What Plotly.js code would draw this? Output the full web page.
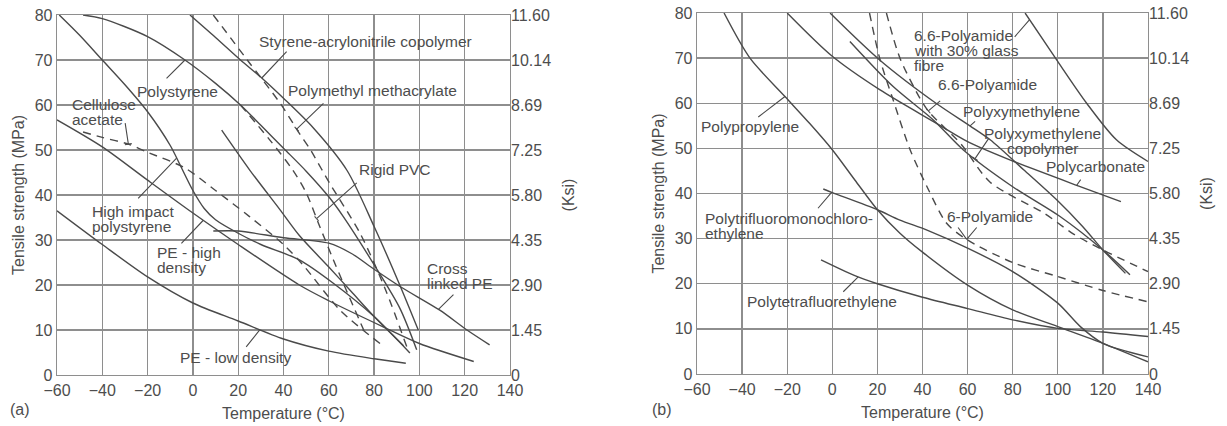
<!DOCTYPE html>
<html>
<head>
<meta charset="utf-8">
<script src="https://cdn.plot.ly/plotly-3.0.1.min.js"></script>
<style>
  html, body { margin: 0; padding: 0; background: #ffffff; }
  #chart { width: 1227px; height: 426px; }
</style>
</head>
<body>
<div id="chart"></div>
<script>
// Shared scales
const tempTicks = [-60, -40, -20, 0, 20, 40, 60, 80, 100, 120, 140];
const mpaTicks = [0, 10, 20, 30, 40, 50, 60, 70, 80];
const ksiLabels = ['0', '1.45', '2.90', '4.35', '5.80', '7.25', '8.69', '10.14', '11.60'];

// ---- Panel (a): temperature (°C) vs tensile strength (MPa) ----
const polystyreneT = [-48.5, -40, -20, -3.5, 10, 21, 30, 40, 50, 60, 66.4, 80, 91.4, 98.8];
const polystyreneS = [80, 79.2, 75.2, 70, 64.8, 60, 55.5, 50.4, 45.3, 39.6, 35.2, 24.5, 14.8, 5.6];

const sanT = [-1.3, 10, 21, 30.4, 40, 53, 68, 80, 91, 99.5];
const sanS = [80, 75, 70, 66, 61.5, 55, 45.5, 33, 20.4, 10];

const pmmaT = [9, 24, 38.5, 47, 51.7, 60.5, 73.8, 85, 94.4];
const pmmaS = [80, 70, 60.4, 53.7, 50.2, 42.5, 31.5, 19, 6.3];

const pvcT = [21, 34, 44, 50, 56, 62, 66.4, 76.7];
const pvcS = [60, 52.2, 45.6, 40.5, 33, 25.6, 20.4, 8.5];

const celluloseT = [-48.5, -40, -28.5, -20, -3.5, 10, 25, 40, 48.7, 65, 82.6];
const celluloseS = [54, 52.8, 51.3, 49.5, 46, 41, 35.2, 29, 24.4, 14.4, 7];

const hipsT = [-59, -50, -40, -30, -20, -10, -5, 0, 5, 10, 20, 30, 47, 62, 80, 95.8];
const hipsS = [80, 75.5, 70, 64.5, 58.5, 51, 46, 41, 37, 34.5, 31.5, 29, 25.6, 20.4, 13, 4.9];

const unlabeledT = [12.7, 25, 38.5, 47, 60, 70, 80, 93];
const unlabeledS = [54.4, 45.6, 36.7, 31, 24, 18.5, 13, 6.5];

const peHighT = [-60, -40, -20, 0, 20, 47, 60, 84, 100, 124];
const peHighS = [56.7, 50.7, 43.3, 36, 29, 20, 16.5, 10.7, 7, 3];

const peLowT = [-60, -40, -20, 0, 20, 40, 60, 80, 94];
const peLowS = [36.5, 29, 21.8, 16, 12, 8, 5.3, 3.6, 2.6];

const xlpeT = [9, 20, 40, 60, 70, 80, 92, 109, 121, 131];
const xlpeS = [32, 32, 30.5, 29.3, 27, 23.5, 19.5, 14.4, 10, 6.7];

// ---- Panel (b) ----
const ppT = [-48, -36.5, -21, -10, 0, 10, 20, 30, 40, 60, 80, 100, 120, 140];
const ppS = [80, 70, 61.5, 55.5, 49.7, 43, 36.4, 31.2, 27, 19.7, 14.2, 10.5, 6.8, 2.7];

const ptfceT = [-4, 0, 20, 30, 42, 60, 80, 100, 110, 120, 140];
const ptfceS = [41, 40.2, 36.4, 34.1, 31.9, 27.9, 22.7, 15.7, 10.5, 6.8, 3.8];

const ptfeT = [-5, 10, 20, 40, 60, 80, 100, 120, 140];
const ptfeS = [25.3, 21.8, 20, 17, 14.5, 12, 10.1, 9.3, 8.3];

const pa66gfT = [85.5, 99.5, 112.8, 126, 140];
const pa66gfS = [80, 69.6, 60, 51.9, 47.1];

const pa6T = [16.5, 21, 27, 34.5, 42, 50.7, 59, 80, 100, 120, 140];
const pa6S = [80, 70, 60.7, 49.7, 41.5, 33.4, 30, 24.7, 21.6, 18.5, 16];

const pa66T = [24, 30, 39, 43, 57, 70, 94, 107, 120, 140];
const pa66S = [80, 70, 61, 58, 51, 42.5, 35.6, 31, 27.5, 22.7];

const pomT = [-1, 21, 46, 61, 70, 85, 99.5, 111, 120, 130];
const pomS = [80, 69.6, 60, 55, 51.9, 45.2, 38.6, 32.7, 27.5, 22.3];

const pomcoT = [7.8, 27, 44.8, 58, 80, 101, 120, 132];
const pomcoS = [73.7, 63.7, 56.3, 49.7, 41.5, 34.9, 27.5, 22];

const pcT = [-20, 0, 21, 46, 60, 79, 109, 128];
const pcS = [80, 70.4, 63, 55.6, 51.5, 47.4, 41.7, 38.2];

const INK = '#4a4a4a';
const GRID = '#8e8e8e';
const TEXT = '#4d4d4d';
const FONT = 'Liberation Sans, Arial, sans-serif';

// Pixels per unit for each panel (°C, MPa), used for the small end bars of leaders
const PX_PER = { a: [2.265, 4.5], b: [2.255, 4.51] };

function curve(t, s, panel, dashed) {
  return {
    x: t, y: s, type: 'scatter', mode: 'lines',
    xaxis: panel === 'a' ? 'x' : 'x2',
    yaxis: panel === 'a' ? 'y' : 'y3',
    line: { color: INK, width: 1.4, shape: 'spline', smoothing: 0.8, dash: dashed ? '8px,6px' : 'solid' },
    hoverinfo: 'skip', showlegend: false
  };
}

const series = {
  polystyrene: [polystyreneT, polystyreneS, 'a', false],
  san: [sanT, sanS, 'a', false],
  pmma: [pmmaT, pmmaS, 'a', true],
  pvc: [pvcT, pvcS, 'a', true],
  cellulose: [celluloseT, celluloseS, 'a', true],
  hips: [hipsT, hipsS, 'a', false],
  unlabeled: [unlabeledT, unlabeledS, 'a', false],
  peHigh: [peHighT, peHighS, 'a', false],
  peLow: [peLowT, peLowS, 'a', false],
  xlpe: [xlpeT, xlpeS, 'a', false],
  pp: [ppT, ppS, 'b', false],
  ptfce: [ptfceT, ptfceS, 'b', false],
  ptfe: [ptfeT, ptfeS, 'b', false],
  pa66gf: [pa66gfT, pa66gfS, 'b', false],
  pa6: [pa6T, pa6S, 'b', true],
  pa66: [pa66T, pa66S, 'b', true],
  pom: [pomT, pomS, 'b', false],
  pomco: [pomcoT, pomcoS, 'b', false],
  pc: [pcT, pcS, 'b', false]
};

const traces = Object.values(series).map(([t, s, p, d]) => curve(t, s, p, d));

// Strength of a series at a given temperature (linear between read points)
function strengthAt(name, temp) {
  const [t, s] = series[name];
  for (let i = 0; i < t.length - 1; i++) {
    if (temp >= t[i] && temp <= t[i + 1]) {
      const f = (temp - t[i]) / (t[i + 1] - t[i]);
      return s[i] + f * (s[i + 1] - s[i]);
    }
  }
  return s[s.length - 1];
}

// Curve labels: text lines, text anchor, leader start, leader tip on a curve, optional end bar
const curveLabels = [
  { p: 'a', lines: ['Styrene-acrylonitrile copolymer'], x: 76, y: 74, lead: [[42, 72.2]], on: 'san', at: 30.4 },
  { p: 'a', lines: ['Polystyrene'], x: -6.6, y: 62.9, lead: [[-12.3, 65.6]], on: 'polystyrene', at: -3.5 },
  { p: 'a', lines: ['Polymethyl methacrylate'], x: 79.1, y: 63.3, lead: [[58.3, 60.7]], on: 'pmma', at: 45.8, bar: true },
  { p: 'a', lines: ['Cellulose', 'acetate'], x: -54.3, y: 58.4, align: 'left', lead: [[-30, 56.3]], on: 'cellulose', at: -28.5, bar: true },
  { p: 'a', lines: ['Rigid PVC'], x: 89.2, y: 45.6, lead: [[73, 43]], on: 'pvc', at: 54.6, bar: true },
  { p: 'a', lines: ['High impact', 'polystyrene'], x: -45.4, y: 34.7, align: 'left', lead: [[-24.8, 38.9]], on: 'hips', at: -7.2 },
  { p: 'a', lines: ['PE - high', 'density'], x: -16.7, y: 25.6, align: 'left', lead: [[-5.7, 28.9]], on: 'peHigh', at: 4.6 },
  { p: 'a', lines: ['PE - low density'], x: 18.6, y: 4, lead: [[23, 5.9]], on: 'peLow', at: 29.6 },
  { p: 'a', lines: ['Cross', 'linked PE'], x: 102.5, y: 22, align: 'left', lead: [[115.7, 18.2]], on: 'xlpe', at: 108.4 },
  { p: 'b', lines: ['6.6-Polyamide', 'with 30% glass', 'fibre'], x: 35.2, y: 71.6, align: 'left', lead: [[80.3, 74.4]], on: 'pa66gf', at: 87.5 },
  { p: 'b', lines: ['6.6-Polyamide'], x: 69, y: 64.1, lead: [[48.5, 60.8]], on: 'pa66', at: 42.6, bar: true },
  { p: 'b', lines: ['Polyxymethylene'], x: 84.1, y: 58.1, lead: [[64, 56.3]], on: 'pom', at: 61.1 },
  { p: 'b', lines: ['Polyxymethylene', 'copolymer'], x: 93.4, y: 51.7, lead: [[69.9, 52.6]], on: 'pomco', at: 63.3, bar: true },
  { p: 'b', lines: ['Polycarbonate'], x: 116.9, y: 45.9, lead: [[110.6, 43.4]], on: 'pc', at: 108.4 },
  { p: 'b', lines: ['Polypropylene'], x: -36.5, y: 54.8, lead: [[-33.5, 56.7]], on: 'pp', at: -21 },
  { p: 'b', lines: ['Polytrifluoromonochloro-', 'ethylene'], x: -57.3, y: 32.8, align: 'left', lead: [[-6.9, 36.4]], on: 'ptfce', at: -0.3 },
  { p: 'b', lines: ['Polytetrafluorethylene'], x: -4.6, y: 16, lead: [[4.2, 17.9]], on: 'ptfe', at: 11.5 },
  { p: 'b', lines: ['6-Polyamide'], x: 69.9, y: 34.8, lead: [[55.3, 32.8], [64.6, 32.8]], on: 'pa6', at: 59.6 }
];

const annotations = [];
const LINE_GAP = 15;
const BAR_HALF = 5;
curveLabels.forEach(lb => {
  const xr = lb.p === 'a' ? 'x' : 'x2';
  const yr = lb.p === 'a' ? 'y' : 'y3';
  const n = lb.lines.length;
  lb.lines.forEach((txt, i) => {
    annotations.push({
      xref: xr, yref: yr, x: lb.x, y: lb.y, text: txt, showarrow: false,
      xanchor: lb.align === 'left' ? 'left' : 'center', yanchor: 'middle',
      yshift: -(i - (n - 1) / 2) * LINE_GAP,
      font: { family: FONT, size: 15.5, color: TEXT }
    });
  });
  const tipY = strengthAt(lb.on, lb.at);
  lb.lead.forEach(([lx, ly]) => {
    annotations.push({
      xref: xr, yref: yr, axref: xr, ayref: yr,
      x: lb.at, y: tipY, ax: lx, ay: ly, text: '',
      showarrow: true, arrowhead: 0, arrowwidth: 1.1, arrowcolor: INK, standoff: 0, startstandoff: 0
    });
    if (lb.bar) {
      // short bar across the leader at its tip
      const [sx, sy] = PX_PER[lb.p];
      const dx = (lx - lb.at) * sx, dy = -(ly - tipY) * sy;
      const len = Math.hypot(dx, dy) || 1;
      const px = -dy / len * BAR_HALF, py = dx / len * BAR_HALF;
      [1, -1].forEach(sg => annotations.push({
        xref: xr, yref: yr, x: lb.at, y: tipY, ax: sg * px, ay: sg * py, text: '',
        showarrow: true, arrowhead: 0, arrowwidth: 1.1, arrowcolor: INK, standoff: 0, startstandoff: 0
      }));
    }
  });
});

// Panel tags
annotations.push({ xref: 'paper', yref: 'paper', x: 8 / 1227, y: 1 - 409 / 426, text: '(a)', showarrow: false,
  xanchor: 'left', yanchor: 'middle', font: { family: FONT, size: 16, color: TEXT } });
annotations.push({ xref: 'paper', yref: 'paper', x: 650 / 1227, y: 1 - 409 / 426, text: '(b)', showarrow: false,
  xanchor: 'left', yanchor: 'middle', font: { family: FONT, size: 16, color: TEXT } });

const tickFont = { family: FONT, size: 16, color: TEXT };
const titleFont = { family: FONT, size: 16, color: TEXT };

function xAxis(domain, anchor) {
  return {
    domain: domain, anchor: anchor, range: [-60, 140], tickvals: tempTicks, ticks: '',
    showgrid: true, gridcolor: GRID, gridwidth: 1.3, zeroline: false,
    showline: true, linecolor: GRID, linewidth: 1.3, mirror: true,
    tickfont: tickFont, title: { text: 'Temperature (°C)', font: titleFont, standoff: 10 }, fixedrange: true
  };
}
function yLeft(domain, anchor) {
  return {
    domain: domain, anchor: anchor, range: [0, 80], tickvals: mpaTicks, ticks: '',
    showgrid: true, gridcolor: GRID, gridwidth: 1.3, zeroline: false,
    showline: true, linecolor: GRID, linewidth: 1.3, mirror: true,
    tickfont: tickFont, title: { text: 'Tensile strength (MPa)', font: titleFont, standoff: 6 }, fixedrange: true
  };
}
function yRight(over, anchor) {
  return {
    overlaying: over, anchor: anchor, side: 'right', range: [0, 80], tickvals: mpaTicks, ticktext: ksiLabels,
    ticks: '', showgrid: false, zeroline: false, tickfont: tickFont,
    title: { text: '(Ksi)', font: titleFont, standoff: 12 }, fixedrange: true
  };
}

// Two-panel layout; one empty trace per right axis so it renders
traces.push({ x: [null], y: [null], xaxis: 'x', yaxis: 'y2', type: 'scatter', showlegend: false, hoverinfo: 'skip' });
traces.push({ x: [null], y: [null], xaxis: 'x2', yaxis: 'y4', type: 'scatter', showlegend: false, hoverinfo: 'skip' });

const layout = {
  width: 1227, height: 426, autosize: false,
  margin: { l: 0, r: 0, t: 0, b: 0 },
  paper_bgcolor: '#ffffff', plot_bgcolor: '#ffffff',
  showlegend: false,
  xaxis: xAxis([57 / 1227, 510 / 1227], 'y'),
  yaxis: yLeft([1 - 375 / 426, 1 - 15 / 426], 'x'),
  yaxis2: yRight('y', 'x'),
  xaxis2: xAxis([697 / 1227, 1148 / 1227], 'y3'),
  yaxis3: yLeft([1 - 374 / 426, 1 - 13 / 426], 'x2'),
  yaxis4: yRight('y3', 'x2'),
  annotations: annotations
};

Plotly.newPlot('chart', traces, layout, { displayModeBar: false, staticPlot: true });
</script>
</body>
</html>
